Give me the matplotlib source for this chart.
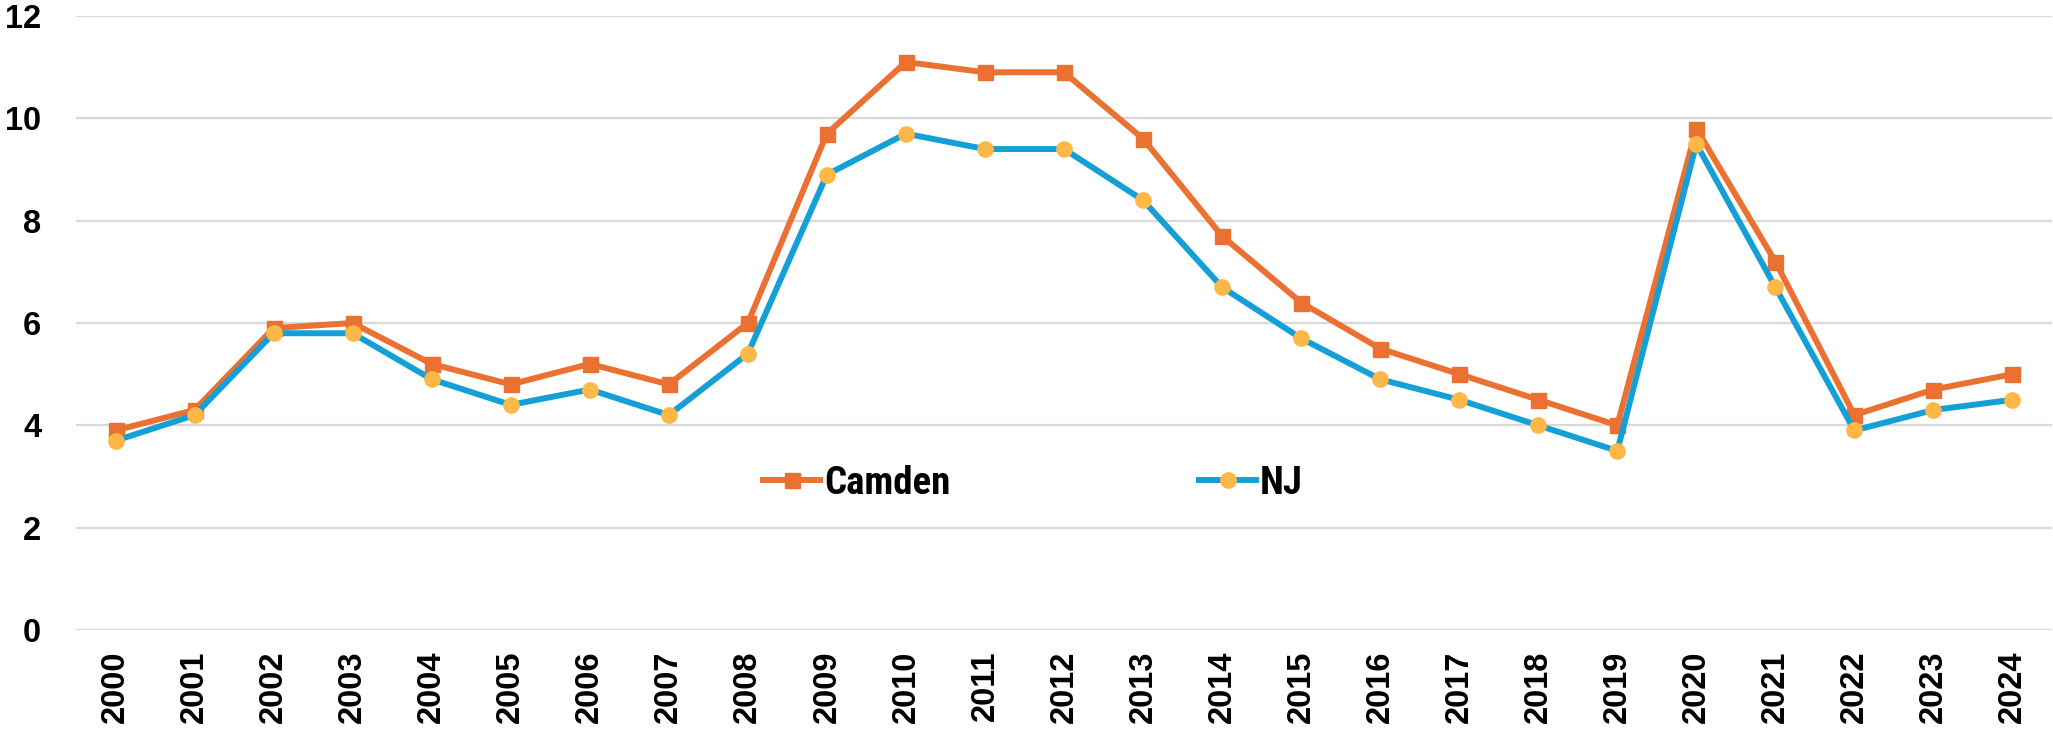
import matplotlib
matplotlib.use("Agg")
import matplotlib.pyplot as plt
from matplotlib import font_manager

years = [str(y) for y in range(2000, 2025)]
camden = [3.9, 4.3, 5.9, 6.0, 5.2, 4.8, 5.2, 4.8, 6.0, 9.7, 11.1, 10.9, 10.9, 9.6,
          7.7, 6.4, 5.5, 5.0, 4.5, 4.0, 9.8, 7.2, 4.2, 4.7, 5.0]
nj = [3.7, 4.2, 5.8, 5.8, 4.9, 4.4, 4.7, 4.2, 5.4, 8.9, 9.7, 9.4, 9.4, 8.4,
      6.7, 5.7, 4.9, 4.5, 4.0, 3.5, 9.5, 6.7, 3.9, 4.3, 4.5]
yticks = [0, 2, 4, 6, 8, 10, 12]

names = {f.name for f in font_manager.fontManager.ttflist}
tick_font = ['Liberation Sans', 'DejaVu Sans']
narrow = [n for n in ['Liberation Sans Narrow', 'Roboto Condensed', 'Open Sans Condensed'] if n in names]
if narrow:
    leg_font = [narrow[0], 'Liberation Sans', 'DejaVu Sans']
    leg_size = 28
else:
    leg_font = ['Liberation Sans', 'DejaVu Sans']
    leg_size = 24

fig = plt.figure(figsize=(20.53, 7.36), dpi=100)
ax = fig.add_axes([76 / 2053, 1 - 630 / 736, 1976 / 2053, 614 / 736])

x = list(range(len(years)))
ax.plot(x, camden, color='#EB7133', lw=4.3, marker='s', markersize=10.8,
        markerfacecolor='#EB7133', markeredgecolor='#EB7133', label='Camden',
        solid_joinstyle='round', zorder=3)
ax.plot(x, nj, color='#14A0D6', lw=4.3, marker='o', markersize=11,
        markerfacecolor='#FFB847', markeredgecolor='#FFB847', label='NJ',
        solid_joinstyle='round', zorder=3)

ax.set_xlim(-0.5, len(years) - 0.5)
ax.set_ylim(0, 12)
ax.set_yticks(yticks)
ax.set_yticklabels([str(v) for v in yticks])
ax.set_xticks(x)
ax.set_xticklabels(years, rotation=90)
for lab in ax.get_yticklabels() + ax.get_xticklabels():
    lab.set_fontfamily(tick_font)
    lab.set_fontweight('bold')
    lab.set_fontsize(23.5)
    lab.set_color('black')
ax.tick_params(axis='y', length=0, pad=25)
ax.tick_params(axis='x', length=0, pad=15)
ax.grid(axis='y', color='#D9D9D9', lw=1.6, zorder=0)
ax.set_axisbelow(True)
for s in ax.spines.values():
    s.set_visible(False)

fs_px = leg_size * 100 / 72
leg = ax.legend(loc='center left', bbox_to_anchor=((763 - 76) / 1976, (630 - 483) / 614),
                ncol=2, frameon=False, borderpad=0, borderaxespad=0,
                handlelength=57 / fs_px, handletextpad=4 / fs_px, columnspacing=249 / fs_px,
                prop={'family': leg_font, 'weight': 'bold', 'size': leg_size})

fig.savefig('out.png', dpi=100, facecolor='white')
